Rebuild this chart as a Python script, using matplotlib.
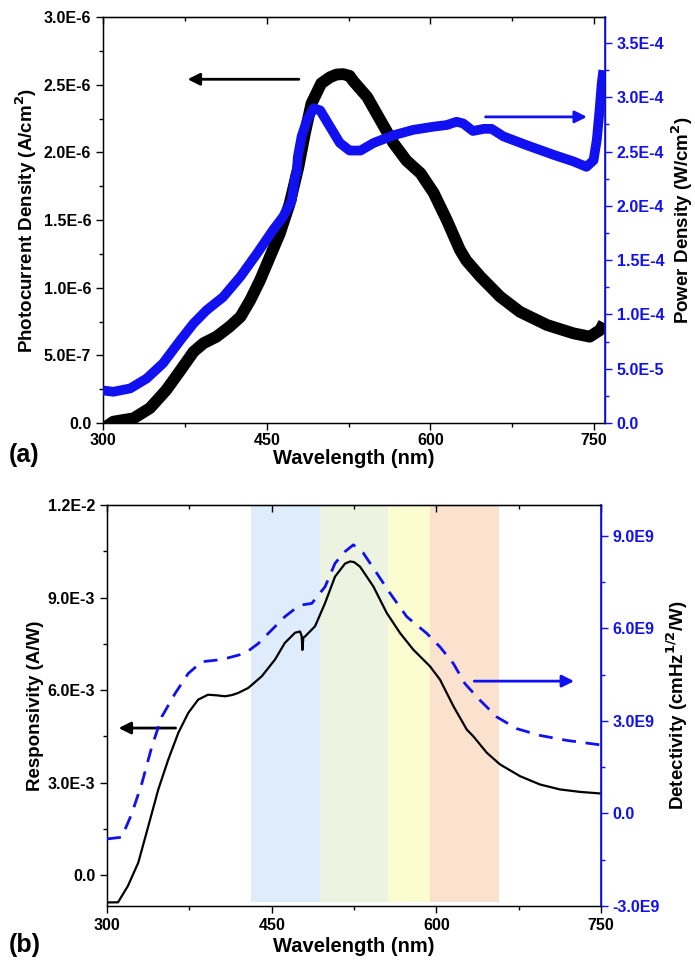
"""Photocurrent / power density (a) and responsivity / detectivity (b) vs wavelength."""

import matplotlib
matplotlib.use('Agg')
import matplotlib.pyplot as plt
from matplotlib.ticker import MultipleLocator, FuncFormatter

plt.rcParams['font.family'] = ['Liberation Sans', 'DejaVu Sans']
plt.rcParams['font.weight'] = 'bold'
plt.rcParams['mathtext.default'] = 'bf'

# ---- panel (a) data ----
wl_photo = [300, 304, 309.5, 328, 343, 358, 371, 383, 392, 404, 416, 426, 435, 444,
            453, 462, 471, 479, 485, 491, 500, 508, 514, 520, 526, 529, 542, 554, 566,
            578, 591, 603, 615, 627, 633, 646, 664, 682, 707, 731, 746, 755.5, 759]
photocurrent = [-0.05e-6, -0.02e-6, 0.01e-6, 0.035e-6, 0.11e-6, 0.244e-6, 0.39e-6,
                0.527e-6, 0.589e-6, 0.638e-6, 0.712e-6, 0.785e-6, 0.909e-6, 1.057e-6,
                1.229e-6, 1.40e-6, 1.62e-6, 1.89e-6, 2.14e-6, 2.36e-6, 2.51e-6, 2.555e-6,
                2.575e-6, 2.578e-6, 2.565e-6, 2.53e-6, 2.41e-6, 2.24e-6, 2.07e-6, 1.94e-6,
                1.845e-6, 1.70e-6, 1.50e-6, 1.28e-6, 1.20e-6, 1.08e-6, 0.933e-6, 0.822e-6,
                0.724e-6, 0.663e-6, 0.638e-6, 0.687e-6, 0.74e-6]

wl_power = [300, 309.5, 325, 340, 355, 371, 383, 395, 410, 426, 441, 456, 465, 473, 476,
            477.5, 478.5, 482, 487, 493, 499, 508, 517, 526, 536, 548, 566, 584, 603, 615,
            624, 630, 639, 649, 656, 667, 688, 713, 731, 743, 749.5, 752.5, 755, 757, 758.5]
power_density = [3.0e-5, 2.88e-5, 3.19e-5, 4.1e-5, 5.5e-5, 7.64e-5, 9.18e-5, 1.04e-4,
                 1.16e-4, 1.35e-4, 1.56e-4, 1.78e-4, 1.90e-4, 2.05e-4, 2.27e-4, 2.30e-4,
                 2.45e-4, 2.64e-4, 2.79e-4, 2.90e-4, 2.88e-4, 2.73e-4, 2.58e-4, 2.51e-4,
                 2.51e-4, 2.58e-4, 2.65e-4, 2.70e-4, 2.73e-4, 2.745e-4, 2.775e-4, 2.76e-4,
                 2.69e-4, 2.71e-4, 2.71e-4, 2.64e-4, 2.56e-4, 2.47e-4, 2.41e-4, 2.36e-4,
                 2.42e-4, 2.61e-4, 2.88e-4, 3.13e-4, 3.25e-4]

# ---- panel (b) data ----
wl_resp = [300, 301, 310, 319, 328.5, 337.6, 346.7, 355.8, 365, 374, 383, 392, 400, 407.5,
           414, 419.6, 428.7, 441, 453, 462, 471.3, 475.8, 477.3, 478, 478.8, 480.4,
           489.5, 498.6, 507.7, 516.8, 521.4, 525, 530.5, 542.6, 554.8, 566.9, 579, 594.2,
           603.3, 615.5, 627.7, 633.7, 645.9, 658, 676.2, 694.4, 712.6, 730.8, 749]
responsivity = [-0.90e-3, -0.883e-3, -0.88e-3, -0.35e-3, 0.41e-3, 1.59e-3, 2.78e-3,
                3.75e-3, 4.62e-3, 5.26e-3, 5.69e-3, 5.85e-3, 5.83e-3, 5.80e-3, 5.84e-3,
                5.91e-3, 6.07e-3, 6.45e-3, 6.99e-3, 7.53e-3, 7.86e-3, 7.90e-3, 7.75e-3,
                7.30e-3, 7.70e-3, 7.74e-3, 8.07e-3, 8.82e-3, 9.68e-3, 10.1e-3, 10.17e-3,
                10.15e-3, 10.0e-3, 9.36e-3, 8.50e-3, 7.85e-3, 7.31e-3, 6.77e-3, 6.34e-3,
                5.48e-3, 4.72e-3, 4.50e-3, 3.97e-3, 3.59e-3, 3.21e-3, 2.94e-3, 2.78e-3,
                2.70e-3, 2.65e-3]

wl_det = [300, 301, 313.4, 322.5, 331.6, 340.7, 349.8, 362, 374, 386.3, 404.5, 425.7,
          437.8, 450, 462, 472.8, 477.3, 486.5, 498.6, 507.7, 516.8, 524.4, 533.5, 545.7,
          557.8, 573, 591.2, 603.3, 615.5, 626, 639.8, 655, 673.2, 694.4, 718.7, 746, 750]
detectivity = [-0.82e9, -0.82e9, -0.77e9, -0.01e9, 0.96e9, 2.15e9, 3.13e9, 3.89e9, 4.54e9,
               4.92e9, 4.99e9, 5.19e9, 5.51e9, 5.95e9, 6.38e9, 6.68e9, 6.76e9, 6.81e9,
               7.35e9, 8.11e9, 8.49e9, 8.71e9, 8.44e9, 7.79e9, 7.14e9, 6.38e9, 5.84e9,
               5.40e9, 4.86e9, 4.21e9, 3.67e9, 3.13e9, 2.75e9, 2.53e9, 2.37e9, 2.24e9,
               2.22e9]

# colour bands: (start, end) in nm
band_edges = [(431, 494), (494, 556), (556, 594), (594, 657)]
band_colors = ['#dfecfb', '#ecf3e1', '#fbfcd0', '#fbe2cf']

BLUE = '#1010f0'
TICK_FS = 11.5
LABEL_FS = 13.5


def sci_fmt(v, pos):
    if abs(v) < 1e-20:
        return '0.0'
    mant, exp = f'{v:.1E}'.split('E')
    return f'{mant}E{int(exp)}'


def style_axes(ax, ax2, xmaj, xmin, ymaj, ymin, y2maj, y2min):
    ax.xaxis.set_major_locator(MultipleLocator(xmaj))
    ax.xaxis.set_minor_locator(MultipleLocator(xmin))
    ax.yaxis.set_major_locator(MultipleLocator(ymaj))
    ax.yaxis.set_minor_locator(MultipleLocator(ymin))
    ax2.yaxis.set_major_locator(MultipleLocator(y2maj))
    ax2.yaxis.set_minor_locator(MultipleLocator(y2min))
    ax.yaxis.set_major_formatter(FuncFormatter(sci_fmt))
    ax2.yaxis.set_major_formatter(FuncFormatter(sci_fmt))

    ax.tick_params(axis='both', which='both', direction='out', labelsize=TICK_FS,
                   width=1.0, top=False, right=False)
    ax.tick_params(which='major', length=5)
    ax.tick_params(which='minor', length=3)
    ax2.tick_params(axis='y', which='both', direction='out', colors=BLUE,
                    labelsize=TICK_FS, width=1.0)
    ax2.tick_params(which='major', length=5)
    ax2.tick_params(which='minor', length=3)
    ax2.spines['right'].set_color(BLUE)
    ax2.spines['right'].set_linewidth(1.2)
    for sp in ax.spines.values():
        sp.set_linewidth(1.0)

    # top ticks point inward, as in the original figure
    sec = ax.secondary_xaxis('top')
    sec.xaxis.set_major_locator(MultipleLocator(xmaj))
    sec.xaxis.set_minor_locator(MultipleLocator(xmin))
    sec.tick_params(axis='x', which='major', direction='in', length=5, width=1.0,
                    labeltop=False)
    sec.tick_params(axis='x', which='minor', direction='in', length=3, width=1.0)


fig = plt.figure(figsize=(6.95, 9.61), dpi=100)

# ---------------- panel (a) ----------------
axa = fig.add_axes([0.1482, 0.5598, 0.7223, 0.4225])
axa2 = axa.twinx()
axa.plot(wl_photo, photocurrent, color='black', lw=8.5, solid_capstyle='butt',
         solid_joinstyle='round', zorder=3)
axa2.plot(wl_power, power_density, color=BLUE, lw=7, solid_capstyle='butt',
          solid_joinstyle='round', zorder=3)
axa.set_xlim(300, 760)
axa.set_ylim(0, 3.0e-6)
axa2.set_ylim(0, 3.74e-4)
style_axes(axa, axa2, 150, 75, 5e-7, 2.5e-7, 5e-5, 2.5e-5)
axa.tick_params(axis='x', pad=2)
axa.set_ylabel('Photocurrent Density (A/cm$^2$)', fontsize=LABEL_FS, fontweight='bold',
               labelpad=3)
axa2.set_ylabel('Power Density (W/cm$^2$)', fontsize=LABEL_FS, fontweight='bold',
                labelpad=4)
axa.set_xlabel('Wavelength (nm)', fontsize=14.5, fontweight='bold', labelpad=1)
axa.annotate('', xy=(375, 2.54e-6), xytext=(482, 2.54e-6),
             arrowprops=dict(arrowstyle='-|>', color='black', lw=2, mutation_scale=18))
axa2.annotate('', xy=(746, 2.82e-4), xytext=(648, 2.82e-4),
              arrowprops=dict(arrowstyle='-|>', color=BLUE, lw=2, mutation_scale=18))
fig.text(0.012, 0.527, '(a)', fontsize=18, fontweight='bold', ha='left', va='center')

# ---------------- panel (b) ----------------
axb = fig.add_axes([0.154, 0.0572, 0.7108, 0.4173])
axb2 = axb.twinx()
for (x0, x1), c in zip(band_edges, band_colors):
    axb.axvspan(x0, x1, ymin=0.01, ymax=1.0, color=c, lw=0, zorder=0)
axb.plot(wl_resp, responsivity, color='black', lw=1.6, zorder=3)
axb2.plot(wl_det, detectivity, color=BLUE, lw=2.0, ls=(0, (5, 3.5)), zorder=3)
axb.set_xlim(300, 750)
axb.set_ylim(-1.0e-3, 1.2e-2)
axb2.set_ylim(-3.0e9, 1.0e10)
style_axes(axb, axb2, 150, 75, 3e-3, 1.5e-3, 3e9, 1.5e9)
axb.set_ylabel('Responsivity (A/W)', fontsize=LABEL_FS, fontweight='bold', labelpad=3)
axb2.set_ylabel('Detectivity (cmHz$^{1/2}$/W)', fontsize=LABEL_FS, fontweight='bold',
                labelpad=3)
axb.set_xlabel('Wavelength (nm)', fontsize=14.5, fontweight='bold', labelpad=3)
axb.annotate('', xy=(308, 4.77e-3), xytext=(365, 4.77e-3),
             arrowprops=dict(arrowstyle='-|>', color='black', lw=2, mutation_scale=18))
axb2.annotate('', xy=(728, 4.29e9), xytext=(632, 4.29e9),
              arrowprops=dict(arrowstyle='-|>', color=BLUE, lw=2, mutation_scale=18))
fig.text(0.012, 0.017, '(b)', fontsize=18, fontweight='bold', ha='left', va='center')

fig.savefig('out.png', dpi=100)
plt.close(fig)
